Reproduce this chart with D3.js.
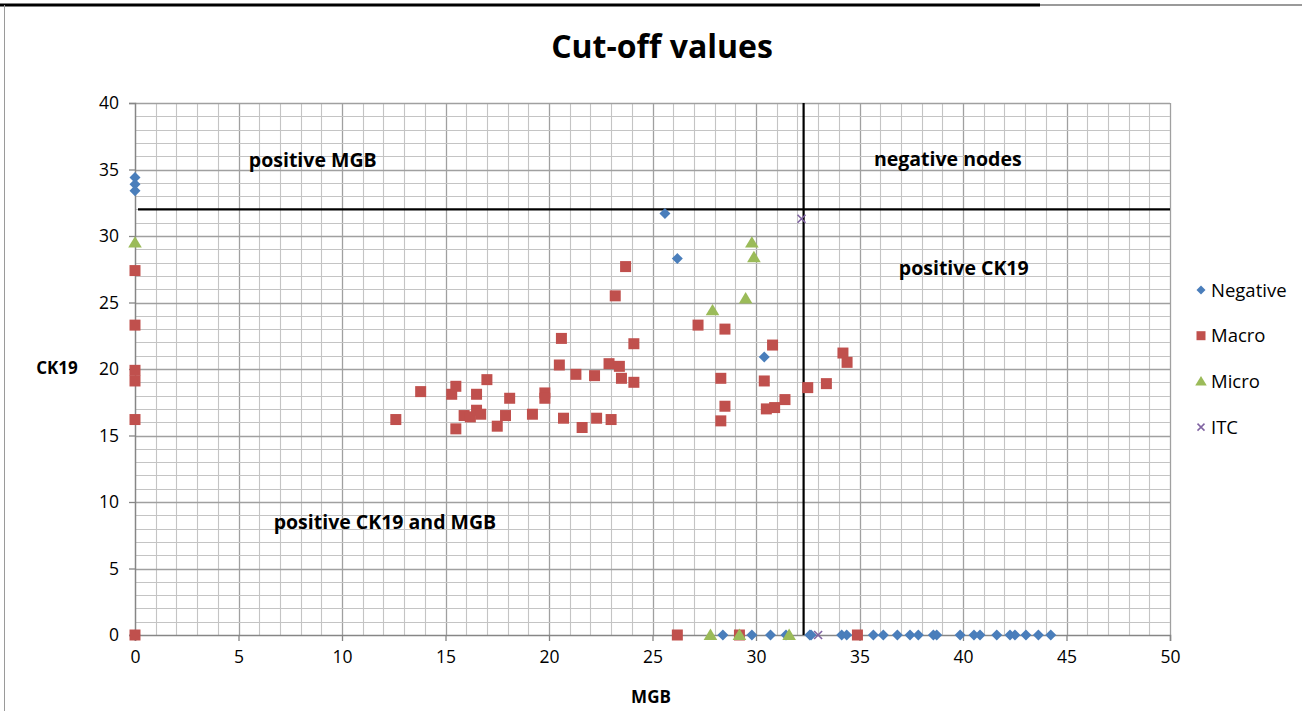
<!DOCTYPE html>
<html><head><meta charset="utf-8">
<script src="https://cdn.jsdelivr.net/npm/d3@7"></script>
<style>body{margin:0;background:#fff;} svg{display:block;font-family:"Open Sans","Liberation Sans",sans-serif;}</style>
</head><body>
<svg id="c" width="1302" height="711"></svg>
<script>
const seriesNames = ["Negative","Macro","Micro","ITC"];
const colors = ["#4a7ebb","#c0504d","#9bbb59","#8064a2"];
const negX = [0,0,0,0,25.6,26.2,30.4,28.4,29.8,30.7,31.45,32.6,32.66,34.14,34.38,35.67,36.15,36.83,37.44,37.84,38.57,38.73,39.86,40.53,40.82,41.63,42.27,42.51,43.04,43.64,44.24];
const negY = [34.4,33.9,33.4,0,31.7,28.3,20.9,0,0,0,0,0,0,0,0,0,0,0,0,0,0,0,0,0,0,0,0,0,0,0,0];
const macroX = [0,0,0,0,0,0,12.6,13.8,15.3,15.5,15.5,16.5,17.0,15.9,16.2,16.5,16.7,17.5,17.9,18.1,19.2,19.8,19.8,20.6,20.5,20.7,21.3,21.6,22.2,22.3,22.9,23.0,23.2,23.7,23.4,23.5,24.1,24.1,27.2,28.5,30.8,28.3,30.4,28.5,28.3,30.5,30.9,31.4,32.5,33.4,34.2,34.4,26.2,29.2,34.9];
const macroY = [27.4,23.3,19.9,19.1,16.2,0,16.2,18.3,18.1,18.7,15.5,18.1,19.2,16.5,16.4,16.9,16.6,15.7,16.5,17.8,16.6,18.2,17.8,22.3,20.3,16.3,19.6,15.6,19.5,16.3,20.4,16.2,25.5,27.7,20.2,19.3,21.9,19.0,23.3,23.0,21.8,19.3,19.1,17.2,16.1,17.0,17.1,17.7,18.6,18.9,21.2,20.5,0,0,0];
const microX = [0,29.8,29.9,29.5,27.9,27.8,29.2,31.6];
const microY = [29.5,29.5,28.4,25.3,24.4,0,0,0];
const itcX = [32.2,33.0];
const itcY = [31.3,0];
const xTicks = [0,5,10,15,20,25,30,35,40,45,50];
const yTicks = [0,5,10,15,20,25,30,35,40];
const cutX = 32.3, cutY = 32;
const regionLabels = ["positive MGB","negative nodes","positive CK19","positive CK19 and MGB"];
const regionPos = [[5.5,35.2],[35.7,35.3],[36.9,27.1],[6.7,8.0]];

const svg = d3.select("#c");
const x = d3.scaleLinear().domain([0,50]).range([135,1170]);
const y = d3.scaleLinear().domain([0,40]).range([635,103]);

// frame
svg.append("line").attr("x1",0).attr("x2",1040).attr("y1",5).attr("y2",5).attr("stroke","#000").attr("stroke-width",3);
svg.append("line").attr("x1",1040).attr("x2",1302).attr("y1",5).attr("y2",5).attr("stroke","#9a9a9a").attr("stroke-width",2);
svg.append("line").attr("x1",4.5).attr("x2",4.5).attr("y1",5).attr("y2",711).attr("stroke","#9a9a9a").attr("stroke-width",1);

// grid
const g = svg.append("g");
d3.range(1,51).forEach(v=>{
  g.append("line").attr("x1",Math.round(x(v))+0.5).attr("x2",Math.round(x(v))+0.5).attr("y1",103).attr("y2",635)
   .attr("stroke", v%5===0?"#a0a0a0":"#c4c4c4").attr("stroke-width",v%5===0?1.3:1.1);
});
d3.range(1,41).forEach(v=>{
  g.append("line").attr("x1",135).attr("x2",1170).attr("y1",Math.round(y(v))+0.5).attr("y2",Math.round(y(v))+0.5)
   .attr("stroke", v%5===0?"#a0a0a0":"#c4c4c4").attr("stroke-width",v%5===0?1.3:1.1);
});

// axes
const xa = svg.append("g").attr("transform","translate(0,635)").call(d3.axisBottom(x).tickValues(xTicks).tickSize(6).tickPadding(10));
const ya = svg.append("g").attr("transform","translate(135,0)").call(d3.axisLeft(y).tickValues(yTicks).tickSize(6).tickPadding(10));
[xa,ya].forEach(a=>{
  a.select(".domain").attr("stroke","#868686").attr("stroke-width",1.5);
  a.selectAll(".tick line").attr("stroke","#868686").attr("stroke-width",1.3);
  a.selectAll(".tick text").attr("font-size",17.5).attr("fill","#000").attr("font-family","'Open Sans',sans-serif");
});

// cutoff lines
svg.append("line").attr("x1",x(0)+3).attr("x2",x(50)).attr("y1",y(cutY)).attr("y2",y(cutY)).attr("stroke","#000").attr("stroke-width",2.2);
svg.append("line").attr("x1",x(cutX)).attr("x2",x(cutX)).attr("y1",y(40)).attr("y2",y(0)).attr("stroke","#000").attr("stroke-width",2.2);

// markers
const diamond = r => `M0,${-r}L${r},0L0,${r}L${-r},0Z`;
const triangle = r => `M0,${-r}L${r*1.05},${r*0.75}L${-r*1.05},${r*0.75}Z`;
const square = r => `M${-r},${-r}H${r}V${r}H${-r}Z`;
const shapes = [diamond(5.5), square(5.5), triangle(6.5)];
const sets = [[negX,negY],[macroX,macroY],[microX,microY]];
sets.forEach((s,i)=>{
  svg.append("g").selectAll("path").data(s[0].map((v,k)=>[v,s[1][k]])).join("path")
    .attr("transform",d=>`translate(${x(d[0])},${y(d[1])})`)
    .attr("d",shapes[i]).attr("fill",colors[i]);
});
svg.append("g").selectAll("path").data(itcX.map((v,k)=>[v,itcY[k]])).join("path")
  .attr("transform",d=>`translate(${x(d[0])},${y(d[1])})`)
  .attr("d","M-4,-4L4,4M-4,4L4,-4").attr("stroke",colors[3]).attr("stroke-width",1.6).attr("fill","none");

// region labels
regionLabels.forEach((t,i)=>{
  svg.append("text").attr("x",x(regionPos[i][0])).attr("y",y(regionPos[i][1])).text(t)
    .attr("font-size",19.5).attr("font-weight","bold").attr("fill","#000");
});

// titles
svg.append("text").attr("x",662).attr("y",58).attr("text-anchor","middle").attr("font-size",32).attr("font-weight","bold").text("Cut-off values");
svg.append("text").attr("x",651).attr("y",703).attr("text-anchor","middle").attr("font-size",17).attr("font-weight","bold").text("MGB");
svg.append("text").attr("x",57).attr("y",374).attr("text-anchor","middle").attr("font-size",17).attr("font-weight","bold").text("CK19");

// legend
const lg = svg.append("g");
const lshapes = [diamond(4.5), square(4.5), triangle(5.5)];
seriesNames.forEach((n,i)=>{
  const ly = 290 + i*45.7;
  if(i<3){
    lg.append("path").attr("transform",`translate(1201,${ly})`).attr("d",lshapes[i]).attr("fill",colors[i]);
  } else {
    lg.append("path").attr("transform",`translate(1201,${ly})`).attr("d","M-3.5,-3.5L3.5,3.5M-3.5,3.5L3.5,-3.5").attr("stroke",colors[3]).attr("stroke-width",1.5);
  }
  lg.append("text").attr("x",1211).attr("y",ly+6.5).attr("font-size",18.5).text(n);
});
</script>
</body></html>
